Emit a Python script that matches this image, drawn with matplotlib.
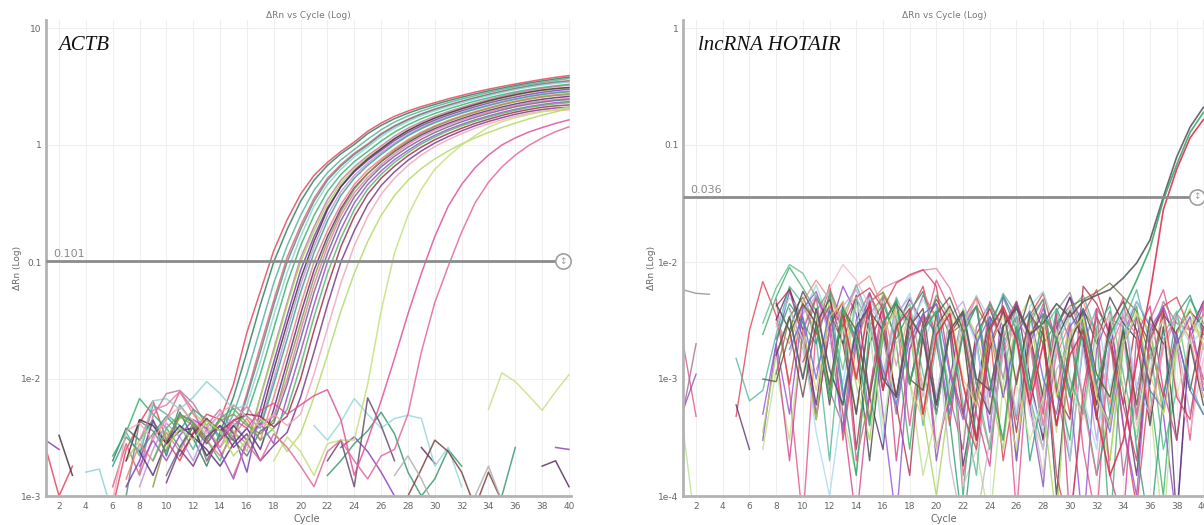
import numpy as np
import matplotlib
matplotlib.use("Agg")
import matplotlib.pyplot as plt

N = np.nan
cycles = list(range(1, 41))

# ---------------- data (ΔRn values in units of 1e-3) ----------------
actb_amp = [
    [2.6,1.0,1.8,N,N,0.8,2.5,4.2,6.5,3.0, 2.0,3.5,5.0,4.5,9,25,56,125,230,380,
     550,710,880,1060,1310,1540,1760,1950,2130,2300, 2480,2650,2830,3000,3160,3320,3480,3640,3790,3920],
    [N,N,N,N,N,2.0,3.8,3.0,4.5,2.2, 5.2,3.1,1.8,3.5,7,17,43,100,190,330,
     500,670,840,1010,1250,1470,1680,1870,2050,2220, 2390,2560,2730,2900,3060,3220,3380,3530,3670,3800],
    [N,N,N,N,N,N,3.5,2.2,6.0,5.0, 4.0,2.5,4.6,3.0,5,11,27,66,138,250,
     410,580,745,915,1120,1350,1570,1770,1950,2130, 2300,2470,2640,2810,2980,3140,3290,3430,3570,3700],
    [N,N,N,N,N,1.2,2.8,1.5,3.2,4.5, 7.8,5.5,2.8,4.0,3.2,7.5,19,47,110,205,
     350,520,680,850,1020,1250,1460,1660,1850,2030, 2200,2370,2540,2710,2880,3050,3200,3340,3460,3550],
    [N,N,N,N,N,N,1.0,4.4,3.6,2.4, 6.0,4.2,2.0,3.3,3.0,7,17,43,100,190,
     330,500,660,830,1000,1230,1440,1640,1830,2010, 2180,2350,2520,2690,2860,3020,3170,3300,3410,3500],
    [N,N,N,1.6,1.7,0.7,N,2.5,6.5,6.8, 5.5,7.0,9.5,7.5,5.5,6,14,35,82,165,
     300,460,620,790,960,1180,1390,1590,1780,1960, 2130,2300,2470,2640,2810,2970,3120,3250,3360,3450],
    [N,N,N,N,N,2.2,3.5,6.8,5.0,3.8, 2.6,4.2,3.0,2.0,4.0,5,11,27,66,138,
     250,400,560,720,880,1080,1290,1490,1680,1860, 2030,2200,2370,2530,2690,2840,2980,3100,3210,3300],
    [N,N,N,N,N,N,N,1.6,4.8,7.5, 8.0,6.2,4.0,5.5,3.5,2.8,7,18,45,108,
     200,340,500,650,810,980,1190,1390,1580,1760, 1930,2100,2270,2440,2610,2770,2920,3050,3160,3250],
    [N,N,N,N,N,N,2.0,3.0,4.2,3.2, 4.6,5.2,4.0,2.6,3.6,2.4,7,17,43,100,
     185,315,470,620,780,940,1140,1330,1510,1690, 1860,2030,2190,2350,2510,2660,2800,2920,3020,3100],
    [3.0,2.5,N,N,N,N,1.2,2.0,4.4,2.8, 5.0,4.3,3.0,4.6,3.4,1.6,5.5,14,35,85,
     165,290,440,590,740,900,1090,1280,1460,1630, 1800,1960,2120,2280,2430,2570,2700,2820,2920,3000],
    [N,3.3,1.5,N,N,N,2.0,4.5,4.0,2.8, 3.6,3.8,2.2,3.0,4.0,3.0,4.5,12,30,72,
     150,280,440,600,760,930,1130,1330,1520,1700, 1870,2040,2210,2380,2540,2690,2830,2950,3040,3100],
    [N,N,N,N,N,N,N,1.2,2.5,4.2, 3.2,2.0,3.8,5.0,4.2,3.0,4.0,10,26,64,
     135,250,400,550,700,860,1040,1230,1410,1580, 1740,1900,2050,2200,2350,2490,2620,2740,2830,2900],
    [N,N,N,N,N,1.8,3.2,2.4,3.4,4.8, 3.6,5.5,4.5,3.2,6.0,4.8,3.8,9,22,55,
     120,225,370,520,670,830,1010,1200,1380,1550, 1710,1870,2020,2170,2320,2460,2590,2700,2790,2850],
    [N,N,N,N,N,N,1.4,2.8,2.0,3.5, 2.4,4.0,3.0,2.2,3.3,4.6,3.0,7,17,43,
     100,185,310,460,610,760,930,1110,1290,1460, 1620,1780,1930,2080,2230,2370,2500,2610,2690,2750],
    [N,N,N,N,N,N,N,2.4,1.5,2.9, 4.0,3.2,2.5,1.8,2.8,3.8,2.5,5.5,14,36,
     85,165,285,430,570,720,880,1050,1220,1380, 1530,1680,1830,1970,2110,2240,2360,2460,2540,2600],
    [N,N,N,N,N,N,N,N,1.2,3.0, 4.8,4.0,3.0,4.4,5.0,4.0,3.4,4.5,12,30,
     74,150,270,420,570,730,900,1080,1260,1430, 1590,1750,1900,2050,2200,2340,2460,2570,2650,2700],
    [N,N,N,N,N,N,N,3.0,5.4,6.0, 7.8,5.0,3.6,2.6,4.4,5.8,4.0,4.8,10,26,
     64,135,250,390,530,680,840,1010,1180,1340, 1490,1640,1780,1920,2050,2180,2290,2380,2450,2500],
    [N,N,N,N,N,N,N,N,N,1.5, 2.6,3.9,2.8,4.0,3.0,2.2,3.6,4.2,9,22,
     55,118,225,360,500,650,800,960,1120,1280, 1430,1580,1720,1860,1990,2120,2230,2320,2400,2450],
    [N,N,N,N,N,N,N,1.8,3.0,2.0, 3.3,4.5,3.8,2.4,1.4,3.0,4.2,2.8,7,17,
     43,100,190,320,460,600,750,900,1060,1210, 1360,1500,1640,1770,1900,2020,2130,2220,2300,2350],
    [N,N,N,N,N,N,N,N,2.0,3.8, 5.0,4.2,3.2,4.6,5.6,4.2,3.0,3.8,5.5,13,
     34,80,160,280,420,560,710,860,1020,1170, 1320,1460,1600,1730,1860,1980,2090,2180,2250,2300],
    [N,N,N,N,N,N,N,N,N,N, 2.2,3.4,4.6,3.6,4.4,5.0,4.8,3.9,4.8,10,
     26,62,135,245,380,520,660,810,960,1110, 1250,1390,1530,1660,1790,1910,2010,2100,2160,2200],
    [N,N,N,N,N,N,N,N,N,1.3, 2.5,1.8,3.2,4.0,2.6,3.4,2.0,2.7,3.5,7,
     17,43,100,185,310,450,590,740,890,1040, 1180,1320,1460,1590,1710,1830,1930,2010,2070,2100],
    [N,N,N,N,N,0.9,3.6,4.2,3.0,4.6, 5.8,4.4,3.4,5.2,6.0,4.7,3.9,5.0,4.0,5,
     11,27,66,138,245,380,520,670,820,970, 1110,1250,1390,1520,1640,1760,1860,1940,1980,2000],
    [N,N,N,N,N,N,N,N,N,2.6, 3.8,3.0,4.4,3.6,2.2,3.0,4.6,3.6,2.4,3.4,
     7,16,38,80,150,250,370,500,630,760, 890,1020,1150,1280,1410,1540,1670,1800,1920,2050],
    [N,N,N,N,N,N,N,N,N,N, N,N,N,N,N,N,N,2.0,3.2,2.4,
     1.5,2.8,3.0,3.0,9,38,120,250,420,620, 800,1000,1200,1420,1580,1710,1820,1920,2010,2100],
    [N,N,N,N,N,N,N,N,N,N, N,N,2.0,3.0,4.5,3.8,5.4,6.2,5.0,6.0,
     7.2,8.1,4.5,1.5,3.0,6.5,15,36,80,165, 300,460,640,820,1000,1150,1290,1410,1530,1640],
    [N,N,N,N,N,N,N,N,N,N, N,N,N,N,1.5,2.8,2.0,3.4,2.6,1.8,
     1.2,2.4,3.0,2.0,1.4,2.2,2.5,5,17,45, 92,180,320,480,650,820,990,1150,1300,1430],
]
actb_amp_colors = ["#e8455f", "#2f7f5f", "#56b39b", "#e06480", "#5f8a78", "#8fd3d6",
                   "#3cb371", "#c27ba0", "#a8d35e", "#7e3fb0", "#4d2f3c", "#b89ae0",
                   "#3f9f8c", "#ef7f7f", "#5b2a7a", "#8a9a40", "#e77bb2", "#5e6e80",
                   "#9a50c8", "#57b867", "#a03050", "#7a3a8a", "#f0a6bd", "#b5d96a",
                   "#c5e07c", "#e0509a", "#e2689f"]

actb_flat = [
    [N]*33 + [5.5, 11.3, 9.5, 7.2, 5.4, 7.8, 10.9],
    [N]*28 + [2.6, 1.9] + [N]*7 + [1.8, 2.0, 1.2],
    [N]*22 + [2.6, 3.2, 2.4, 1.6, 1.0] + [N]*11 + [2.6, 2.5],
    [N]*21 + [1.5, 2.0, 2.8, 3.6, 5.2, 3.4, 1.6, 1.0, 1.4, 2.5, 1.8, N, N, 1.0, 2.6] + [N]*4,
    [N]*20 + [4.0, 3.0, 4.3, 6.8, 5.0, 3.8, 4.6, 4.9, 4.6, 1.8, 2.6, 1.2] + [N]*8,
    [N]*21 + [2.0, 3.0, 1.2, 6.9, 4.0, 2.0] + [N]*13,
    [N]*27 + [1.0, 1.7, 3.0, 2.4, 1.6, 0.8, 1.6, 0.9] + [N]*5,
    [N]*26 + [1.5, 2.2, 1.4, 0.8] + [N]*2 + [1.0, 1.8, 0.9] + [N]*5,
]
actb_flat_colors = ["#c8e08a", "#5a3060", "#8844bb", "#3a9a70", "#98d8dc",
                    "#6b4a70", "#7a4040", "#b0b0b0"]

hotair_flat = [
    [5.8,5.4,5.3] + [N]*20 + [3.0,1.0,4.5,2.2,0.3,3.8,5.5,
     2.4,0.6,3.3,2.8,0.45,2.0,4.6,3.0,2.6,3.5],
    [2.1,0.48,N,N,N,N,N,4.8,0.8,0.06, 2.8,6.0,3.0,0.2,0.7,5.2,3.3,0.4,2.4,7.0,
     4.0,0.15,0.6,4.6,2.5,0.07,2.2,4.4,0.8,3.0, 0.25,0.06,2.6,5.0,0.5,3.2,5.8,2.0,0.3,4.0],
    [0.53,1.1,N,N,N,N,0.3,2.0,5.6,3.2, 0.5,2.6,6.2,3.6,0.45,2.8,4.8,0.9,3.0,0.2,
     1.0,3.8,2.2,0.35,5.2,3.0,0.6,0.12,2.6,5.0, 3.0,0.8,0.4,2.4,4.6,2.8,0.5,0.06,2.2,4.2],
    [0.5,2.0,N,N,N,N,N,N,4.0,2.0, 5.0,0.8,0.4,3.2,5.5,2.4,0.5,2.6,5.2,3.4,
     0.7,0.25,2.8,4.4,2.0,0.45,3.3,4.8,0.8,0.2, 2.0,4.0,2.6,0.15,0.8,3.0,2.2,N,N,N],
    [0.4,0.05,N,N,N,N,0.25,1.2,0.3,2.8, 5.2,3.8,0.5,0.15,2.2,5.6,3.6,1.0,0.15,0.5,
     3.8,2.4,0.25,0.06,0.9,3.0,5.0,2.0,0.35,4.0, 2.8,0.5,0.2,2.5,3.8,0.6,0.05,1.8,3.4,2.2],
    [N,N,N,N,0.48,2.6,6.8,3.5,0.9,4.4, 2.4,6.4,0.3,2.0,5.4,3.0,0.7,3.6,6.2,2.2,
     0.4,3.2,5.0,2.6,0.2,1.0,3.5,5.4,2.0,0.5, 3.6,5.8,2.4,0.4,0.08,1.0,4.2,5.0,2.6,1.0],
    [N,N,N,N,0.6,0.25,N,3.2,6.0,2.6, 0.6,3.8,2.0,5.2,0.7,0.25,2.8,4.8,3.0,0.5,
     2.6,0.18,0.8,3.4,2.2,4.6,1.0,0.3,2.8,5.0, 2.0,0.45,3.0,0.8,0.15,2.4,4.0,0.06,2.6,4.6],
    [N,N,N,N,1.5,0.65,0.8,2.4,6.2,4.4, 2.2,0.2,3.4,6.4,3.2,0.8,5.0,2.6,0.4,2.0,
     4.2,0.6,0.15,2.6,5.4,3.6,0.7,0.25,2.2,3.8, 5.2,2.4,0.5,3.0,5.8,2.0,0.25,0.8,N,N],
    [N,N,N,N,N,N,N,1.1,3.4,5.0, 2.8,0.8,3.6,2.0,4.6,5.5,3.2,0.9,3.0,4.4,
     2.4,3.0,4.2,2.6,0.7,2.8,3.6,2.0,3.0,4.2, 4.8,5.5,6.6,5.0,3.8,1.5,N,N,N,N],
    [N,N,N,N,N,N,N,2.8,5.0,3.6, 6.4,3.0,0.9,4.4,2.6,0.3,3.4,5.4,2.0,4.0,
     0.7,2.8,5.2,3.2,2.4,0.5,4.2,5.6,2.6,0.2, 2.2,3.8,0.8,2.8,4.6,3.0,0.5,2.0,3.8,2.4],
    [N,N,N,N,N,N,2.4,5.0,9.0,6.0, 3.8,5.8,2.6,0.5,3.6,5.0,2.0,0.25,2.4,5.2,
     3.4,0.1,2.0,4.4,2.8,0.2,3.0,4.8,0.9,0.3, 3.8,2.6,0.05,2.2,4.2,0.8,0.1,2.4,4.8,3.0],
    [N,N,N,N,N,N,N,3.0,2.0,4.6, 7.0,4.8,3.0,6.2,7.6,4.0,1.3,3.8,5.6,3.2,
     0.8,2.6,5.0,0.5,2.2,4.0,2.6,0.4,1.8,3.6, 4.6,2.2,0.6,4.0,2.6,0.45,1.8,3.4,2.2,0.7],
    [N,N,N,N,N,N,N,N,2.2,4.0, 3.0,6.0,9.5,7.0,4.2,2.8,4.6,3.2,0.9,3.0,
     4.4,0.12,0.25,1.8,3.6,2.0,0.5,0.25,2.4,4.2, 2.6,0.7,3.6,2.0,0.4,1.2,2.8,0.8,0.35,1.5],
    [N,N,N,N,N,N,N,4.2,5.8,2.2, 0.45,2.8,4.6,0.25,2.0,4.0,0.6,0.15,2.6,4.8,
     3.0,0.5,2.4,4.0,2.0,0.35,2.4,3.6,0.75,0.45, 6.2,4.4,2.4,0.6,3.4,2.0,0.7,2.6,3.8,2.8],
    [N,N,N,N,N,N,N,N,1.6,3.6, 5.2,2.4,4.2,5.8,3.0,1.0,3.6,5.0,2.6,0.7,
     3.4,4.6,2.0,0.4,2.8,4.0,2.2,0.6,2.6,3.8, 1.8,0.3,2.2,3.6,0.8,2.8,4.0,2.2,0.5,2.0],
    [N,N,N,N,N,N,N,4.4,2.6,5.6, 3.4,0.6,4.2,2.0,0.2,2.4,4.4,3.0,0.8,2.8,
     4.2,2.4,0.3,1.8,3.8,2.2,5.2,2.6,0.1,2.0, 4.0,2.0,5.0,3.0,2.2,0.4,2.8,0.3,2.0,0.6],
    [N,N,N,N,N,N,0.35,1.6,3.4,1.8, 0.45,5.0,3.2,0.9,0.3,2.4,4.2,2.6,0.5,0.1,
     0.7,4.0,2.4,0.8,0.25,2.6,3.8,0.6,0.06,2.4, 3.4,0.8,0.2,2.0,3.6,2.6,0.5,2.4,4.0,1.8],
    [N,N,N,N,N,N,0.5,2.0,0.5,4.0, 5.6,2.6,0.35,2.4,5.2,0.5,0.06,1.8,3.6,2.4,
     0.5,2.8,4.2,0.7,2.4,0.2,2.0,4.0,2.2,0.8, 0.05,1.8,3.8,0.4,0.1,2.6,4.2,2.0,3.4,0.8],
    [N,N,N,N,N,N,N,2.2,4.4,3.0, 2.0,5.4,0.8,0.15,2.8,4.4,2.2,3.8,5.6,2.0,
     0.45,0.05,0.6,3.0,5.0,2.6,0.2,0.8,4.0,2.2, 0.7,0.15,0.5,2.8,0.25,0.05,0.7,3.6,5.2,2.4],
    [N,N,N,N,N,N,N,1.8,0.2,2.6, 5.0,3.0,0.5,0.06,0.8,3.8,0.2,1.8,3.4,0.25,
     0.7,2.6,0.5,0.18,2.8,4.6,2.2,0.5,3.6,0.06, 0.6,4.0,0.15,0.06,2.4,4.2,0.8,0.3,2.6,4.4],
    [N,N,N,N,N,N,N,N,3.8,2.2, 0.35,0.1,0.7,3.0,5.0,2.6,0.6,3.0,4.8,2.8,
     0.8,3.8,2.0,0.5,2.4,3.6,0.8,0.35,2.0,3.4, 0.7,0.25,2.2,4.0,0.9,0.5,2.2,3.4,2.0,2.6],
    [N,N,N,N,N,N,N,N,2.6,0.7, 3.0,4.8,2.0,0.5,3.8,2.6,0.7,2.8,4.0,0.6,
     2.4,3.6,0.9,0.5,2.8,4.2,2.4,0.7,2.2,3.8, 2.2,0.6,3.0,4.6,2.6,0.9,3.6,2.4,0.8,2.8],
    [N,N,N,N,N,N,N,N,N,2.0, 3.6,0.7,2.6,4.2,2.4,0.4,2.0,3.4,0.8,0.25,
     0.8,2.8,0.6,2.0,3.4,0.9,0.3,0.7,2.6,0.9, 0.45,2.2,3.6,0.8,0.35,2.0,3.2,0.7,2.2,3.4],
    [N]*10 + [1.2,2.4,4.0,2.0,4.4,6.0,6.8,7.6,8.5,8.8,
     6.0,3.0,0.7,0.25,1.8,3.4,2.0,0.4,1.6,3.0, 0.6,0.15,1.8,3.4,2.4,0.5,2.0,3.6,2.6,0.9],
    [N,N,N,N,N,N,3.0,6.0,9.5,8.0, 5.0,3.6,1.2,4.8,3.0,0.8,3.0,4.4,1.1,0.5,
     2.6,3.8,0.9,0.25,2.0,3.4,0.8,2.6,4.0,1.0, 0.5,2.8,4.2,1.1,0.3,1.6,2.4,3.8,0.9,0.5],
    [N,N,N,N,N,N,N,N,N,1.4, 2.6,4.2,2.8,5.0,6.0,4.0,6.6,7.8,8.6,6.2,
     1.2,0.5,0.25,2.0,3.8,2.2,0.7,2.8,0.15,0.05, 0.8,3.4,2.0,0.6,0.2,2.2,4.0,0.7,0.45,2.8],
    [N]*11 + [2.0,3.8,5.0,3.0,1.1,4.2,2.6,0.7,2.8,
     0.2,0.05,0.06,0.3,1.6,3.0,0.7,0.15,1.2,2.0] + [N]*10,
    [N,N,N,N,N,N,1.0,0.95,2.4,4.4, 3.0,0.9,4.0,2.6,0.7,3.0,4.6,1.0,0.8,3.6,
     5.0,2.6,0.6,2.8,4.0,0.9,3.6,2.4,0.4,2.0, 3.8,1.1,0.7,2.6,0.6,3.4,2.0,N,N,N],
    [N,N,N,N,N,N,N,N,1.8,3.4, 1.0,4.0,0.7,2.6,4.2,1.2,0.6,2.2,3.6,4.4,
     1.1,0.45,2.0,3.4,0.7,2.4,3.8,1.0,0.5,2.8, 4.0,0.9,0.35,2.0,3.4,0.8,0.55,2.4,0.8,0.5],
    [N,N,N,N,N,N,N,N,N,2.6, 0.8,3.4,4.6,1.1,0.5,2.6,3.8,0.9,0.45,2.4,
     4.0,1.0,0.6,2.6,0.8,0.25,1.8,3.2,0.7,2.4, 3.4,0.7,0.4,2.0,3.6,1.1,0.5,1.8,3.2,2.0],
]
hotair_flat_colors = ["#8a8a8a", "#e0508a", "#8a4cc0", "#a06a90", "#b8e08a", "#e04050",
                      "#5a2e6a", "#4fb89a", "#7a7a3a", "#9ad6e0", "#3fae6a", "#f08a8a",
                      "#f4b6cc", "#a83048", "#bca2e6", "#444444", "#a8d45a", "#9450d0",
                      "#2e9a7a", "#d8408a", "#a8d8f0", "#6b4040", "#cfe6a0", "#e87aa0",
                      "#58c08a", "#d0405a", "#c0b8c0", "#585830", "#6a6ad0", "#e0d070"]

hotair_amp = [
    [N]*7 + [1.6,3.4,1.0, 4.0,1.2,0.6,2.8,4.2,1.0,0.7,3.4,2.2,0.6,
             2.6,3.8,1.0,0.8,2.8,4.0,2.4,3.0,4.4,3.4, 4.6,5.2,5.8,7.3,9.8,15.4,36,79,142,210],
    [N]*10 + [2.8,0.7,4.0,2.2,0.4,3.0,4.6,0.9,2.6,3.8, 0.6,2.4,4.2,1.0,0.3,2.8,0.8,3.6,2.2,0.7,
              2.8,0.9,2.4,4.0,7.0,13,34,68,128,190],
    [N]*12 + [3.4,1.0,4.6,0.8,2.8,4.0,0.5,2.4, 3.6,0.9,0.3,2.6,4.2,2.2,0.6,2.0,0.4,1.6,
              2.6,0.5,0.15,0.3,1.4,5.4,28,62,115,165],
]
hotair_amp_colors = ["#555a60", "#3aa66a", "#e03050"]

actb_threshold = 0.101
hotair_threshold = 0.036
actb_yticks = [1e-3, 1e-2, 0.1, 1, 10]
actb_ylabels = ["1e-3", "1e-2", "0.1", "1", "10"]
hotair_yticks = [1e-4, 1e-3, 1e-2, 0.1, 1]
hotair_ylabels = ["1e-4", "1e-3", "1e-2", "0.1", "1"]
xticks = list(range(2, 41, 2))

# ---------------- figure ----------------
W, H = 1204, 525
fig = plt.figure(figsize=(W / 100, H / 100), dpi=100)


def rect(x0, x1, yt, yb):
    return [x0 / W, 1 - yb / H, (x1 - x0) / W, (yb - yt) / H]


ax1 = fig.add_axes(rect(45.6, 571.0, 20, 496))
ax2 = fig.add_axes(rect(682.7, 1205.4, 20, 496))

TXT = "#666666"


def style(ax, yticks, ylabels, ylim):
    ax.set_yscale("log")
    ax.set_xlim(1, 40.15)
    ax.set_ylim(*ylim)
    ax.set_yticks(yticks)
    ax.set_yticklabels(ylabels)
    ax.minorticks_off()
    ax.set_xticks(xticks)
    ax.tick_params(length=0, labelsize=6.5, colors=TXT, pad=3)
    ax.tick_params(axis="x", pad=4)
    for s in ("top", "right"):
        ax.spines[s].set_visible(False)
    for s in ("left", "bottom"):
        ax.spines[s].set_color("#b3b3b3")
        ax.spines[s].set_linewidth(2)
    ax.grid(True, color="#efefef", lw=0.8, zorder=0)
    ax.set_axisbelow(True)
    ax.set_title("ΔRn vs Cycle (Log)", fontsize=6.5, color="#777777", pad=1)


def draw(ax, series, colors, lw=1.1, alpha=0.85):
    for vals, c in zip(series, colors):
        y = np.array(vals, dtype=float) / 1000.0
        ax.plot(cycles[:len(y)], y, color=c, lw=lw, alpha=alpha, zorder=2)


def threshold(ax, thr, label, xc):
    ax.plot([1, xc - 0.35], [thr, thr], color="#8c8c8c", lw=2, zorder=4, solid_capstyle="butt")
    ax.plot([xc], [thr], marker="o", ms=11, mfc="white", mec="#a0a0a0", mew=1.2, zorder=5)
    ax.text(xc, thr, "↕", fontsize=6.5, color="#a0a0a0", ha="center", va="center", zorder=6)
    ax.text(1.55, thr * 10 ** (2 / 117), label, fontsize=8, color="#8a8a8a",
            ha="left", va="bottom", zorder=6)


style(ax1, actb_yticks, actb_ylabels, (1e-3, 10 ** (1 + 8 / 117)))
style(ax2, hotair_yticks, hotair_ylabels, (1e-4, 10 ** (8 / 117)))

draw(ax1, actb_flat, actb_flat_colors)
draw(ax1, actb_amp, actb_amp_colors)
draw(ax2, hotair_flat, hotair_flat_colors, lw=1.0, alpha=0.8)
draw(ax2, hotair_amp, hotair_amp_colors, lw=1.2, alpha=0.9)

threshold(ax1, actb_threshold, "0.101", 39.55)
threshold(ax2, hotair_threshold, "0.036", 39.5)

ax1.text(0.024, 0.946, "ACTB", transform=ax1.transAxes, fontsize=15,
         family="Liberation Serif", style="italic", va="center", ha="left", color="#111111")
ax2.text(0.029, 0.946, "lncRNA HOTAIR", transform=ax2.transAxes, fontsize=15,
         family="Liberation Serif", style="italic", va="center", ha="left", color="#111111")

for xc in (18, 652):
    fig.text(xc / W, 1 - 268 / H, "ΔRn (Log)", rotation=90, ha="center", va="center",
             fontsize=6.5, color=TXT)
for xc in (307, 944):
    fig.text(xc / W, 1 - 519 / H, "Cycle", ha="center", va="center", fontsize=7, color=TXT)

fig.savefig("out.png", dpi=100, facecolor="white")
